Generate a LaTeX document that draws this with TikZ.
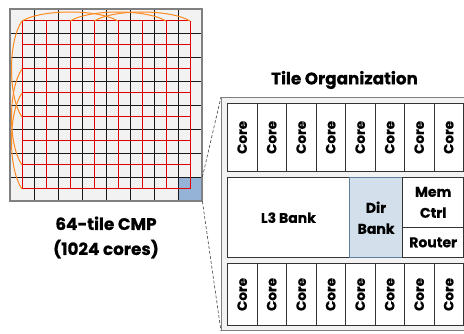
\documentclass[tikz,border=0pt]{standalone}
\usepackage{fontspec}
\setmainfont{Poppins}[BoldFeatures={FakeBold=0.6}]
\definecolor{tilebg}{HTML}{F2F2F2}
\definecolor{meshred}{HTML}{E00000}
\definecolor{express}{HTML}{FF8A20}
\definecolor{hltile}{HTML}{95B3D7}
\definecolor{dirfill}{HTML}{D3E0EC}
\definecolor{dirline}{HTML}{5E7E9E}
\definecolor{frame}{HTML}{808080}
\tikzset{
  gridline/.style={draw=black!90, line width=0.8pt},
  meshline/.style={draw=meshred, line width=1pt},
  expline/.style={draw=express, line width=1pt},
  blockbox/.style={draw=black!80, fill=white, line width=0.8pt, inner sep=0pt, anchor=north west, align=center, font=\bfseries\fontsize{14}{21}\selectfont},
  corebox/.style={blockbox, minimum width=29.5pt, font=\bfseries\fontsize{13.5}{13.5}\selectfont},
  zoomline/.style={draw=black!75, line width=0.6pt, dash pattern=on 3pt off 2pt},
  title/.style={font=\bfseries\fontsize{16.8}{25}\selectfont, align=center, inner sep=0pt}
}
\begin{document}
\begin{tikzpicture}[x=1pt,y=-1pt]
\useasboundingbox (0,0) rectangle (464,334);
\clip (0,0) rectangle (464,334);
% ---- 64-tile CMP ----
\fill[tilebg] (10,9) rectangle (202,201);
\node[fill=hltile, draw=none, minimum width=24pt, minimum height=24pt, inner sep=0pt, anchor=north west] (hl) at (178,177) {};
\foreach \i in {1,...,7} {
  \draw[gridline] (10+24*\i,9) -- (10+24*\i,201);
  \draw[gridline] (10,9+24*\i) -- (202,9+24*\i);
}
\draw[draw=frame, line width=1.4pt] (10,9) rectangle (202,201);
\foreach \i in {0,...,7} {
  \draw[meshline] (22+24*\i,21) -- (22+24*\i,189);
}
\foreach \j in {0,...,7} {
  \draw[meshline] (22,21+24*\j) -- (190,21+24*\j);
}
\foreach \a/\b in {0/4,2/6,3/7} {
  \draw[expline] (22+24*\a,21) .. controls (42+24*\a,9) and (2+24*\b,9) .. (22+24*\b,21);
  \draw[expline] (22,21+24*\a) .. controls (8,41+24*\a) and (8,1+24*\b) .. (22,21+24*\b);
}
\node[title] (cmp) at (106,237.5) {64-tile CMP\\(1024 cores)};
% ---- Tile organization ----
\node[title] (orgtitle) at (344.5,80) {Tile Organization};
\node[draw=frame, fill=tilebg, line width=1.2pt, minimum width=250pt, minimum height=233pt, inner sep=0pt, anchor=north west] (org) at (221,97) {};
\foreach \i in {0,...,7} {
  \node[corebox, minimum height=68pt] (ct\i) at (227+29.5*\i,103) {\rotatebox{90}{Core}};
  \node[corebox, minimum height=61.5pt] (cb\i) at (227+29.5*\i,263.3) {\rotatebox{90}{Core}};
}
\node[blockbox, minimum width=122pt, minimum height=80pt] (l3) at (227,177.3) {L3 Bank};
\node[blockbox, fill=dirfill, draw=dirline, minimum width=53.3pt, minimum height=80pt] (dir) at (349,177.3) {Dir\\Bank};
\node[blockbox, minimum width=61pt, minimum height=49.4pt] (mem) at (402.3,177.3) {Mem\\Ctrl};
\node[blockbox, minimum width=61pt, minimum height=30.6pt] (router) at (402.3,226.7) {Router};
% ---- zoom connectors ----
\draw[zoomline] (hl.north east) -- (org.north west);
\draw[zoomline] (hl.south east) -- (org.south west);
\end{tikzpicture}
\end{document}
